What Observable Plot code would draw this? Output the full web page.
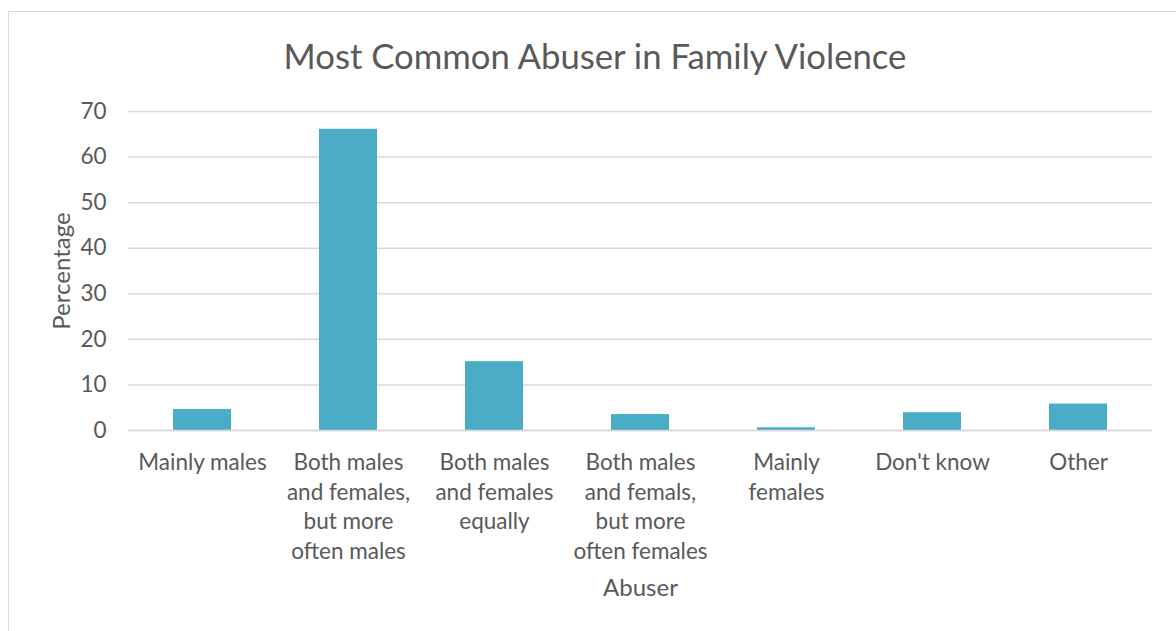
<!DOCTYPE html>
<html>
<head>
<meta charset="utf-8">
<script src="https://cdn.jsdelivr.net/npm/d3@7"></script>
<script src="https://cdn.jsdelivr.net/npm/@observablehq/plot@0.6"></script>
<style>
  html, body { margin: 0; padding: 0; background: #fff; }
  body { width: 1176px; height: 631px; overflow: hidden; position: relative; font-family: Lato, "Open Sans", sans-serif; }
  #frame { position: absolute; left: 8px; top: 11px; width: 1200px; height: 700px; border: 1.5px solid #d9d9d9; box-sizing: border-box; }
  #title { position: absolute; left: 8px; width: 1168px; top: 35px; text-align: center; font-size: 34.7px; color: #595959; padding-left: 6px; box-sizing: border-box; line-height: 1.2; }
  #chart { position: absolute; left: 8px; top: 11px; }
</style>
</head>
<body>
<div id="frame"></div>
<div id="chart"></div>
<div id="title">Most Common Abuser in Family Violence</div>
<script>
const categories = [
  "Mainly males",
  "Both males\nand females,\nbut more\noften males",
  "Both males\nand females\nequally",
  "Both males\nand femals,\nbut more\noften females",
  "Mainly\nfemales",
  "Don't know",
  "Other"
];
const values = [4.6, 66.1, 15.1, 3.5, 0.6, 3.9, 5.8];
const yTicks = [0, 10, 20, 30, 40, 50, 60, 70];

const data = categories.map((c, i) => ({category: c, value: values[i]}));

const plot = Plot.plot({
  width: 1168,
  height: 620,
  marginLeft: 120,
  marginRight: 24,
  marginTop: 100,
  marginBottom: 201,
  style: {fontFamily: "Lato, 'Open Sans', sans-serif", color: "#595959", background: "transparent", overflow: "visible"},
  x: {domain: categories, paddingInner: 0.6, paddingOuter: 0.3, label: null},
  y: {domain: [0, 70], label: null},
  marks: [
    Plot.gridY(yTicks, {stroke: "#d9d9d9", strokeOpacity: 1, strokeWidth: 1.5}),
    Plot.barY(data, {x: "category", y: "value", fill: "#4bacc6"}),
    Plot.ruleY([0], {stroke: "#d9d9d9", strokeWidth: 1.5}),
    Plot.axisY(yTicks, {tickSize: 0, tickPadding: 22, fontSize: 22.5, fill: "#595959", label: null}),
    Plot.axisX({tickSize: 0, tickPadding: 19, fontSize: 22.5, lineHeight: 1.31, fill: "#595959", label: null}),
    Plot.text(["Percentage"], {frameAnchor: "left", textAnchor: "middle", dx: -66, rotate: -90, fontSize: 24, fill: "#595959"}),
    Plot.text(["Abuser"], {frameAnchor: "bottom", lineAnchor: "middle", dy: 158, fontSize: 24, fill: "#595959"})
  ]
});
document.getElementById("chart").appendChild(plot);
</script>
</body>
</html>
